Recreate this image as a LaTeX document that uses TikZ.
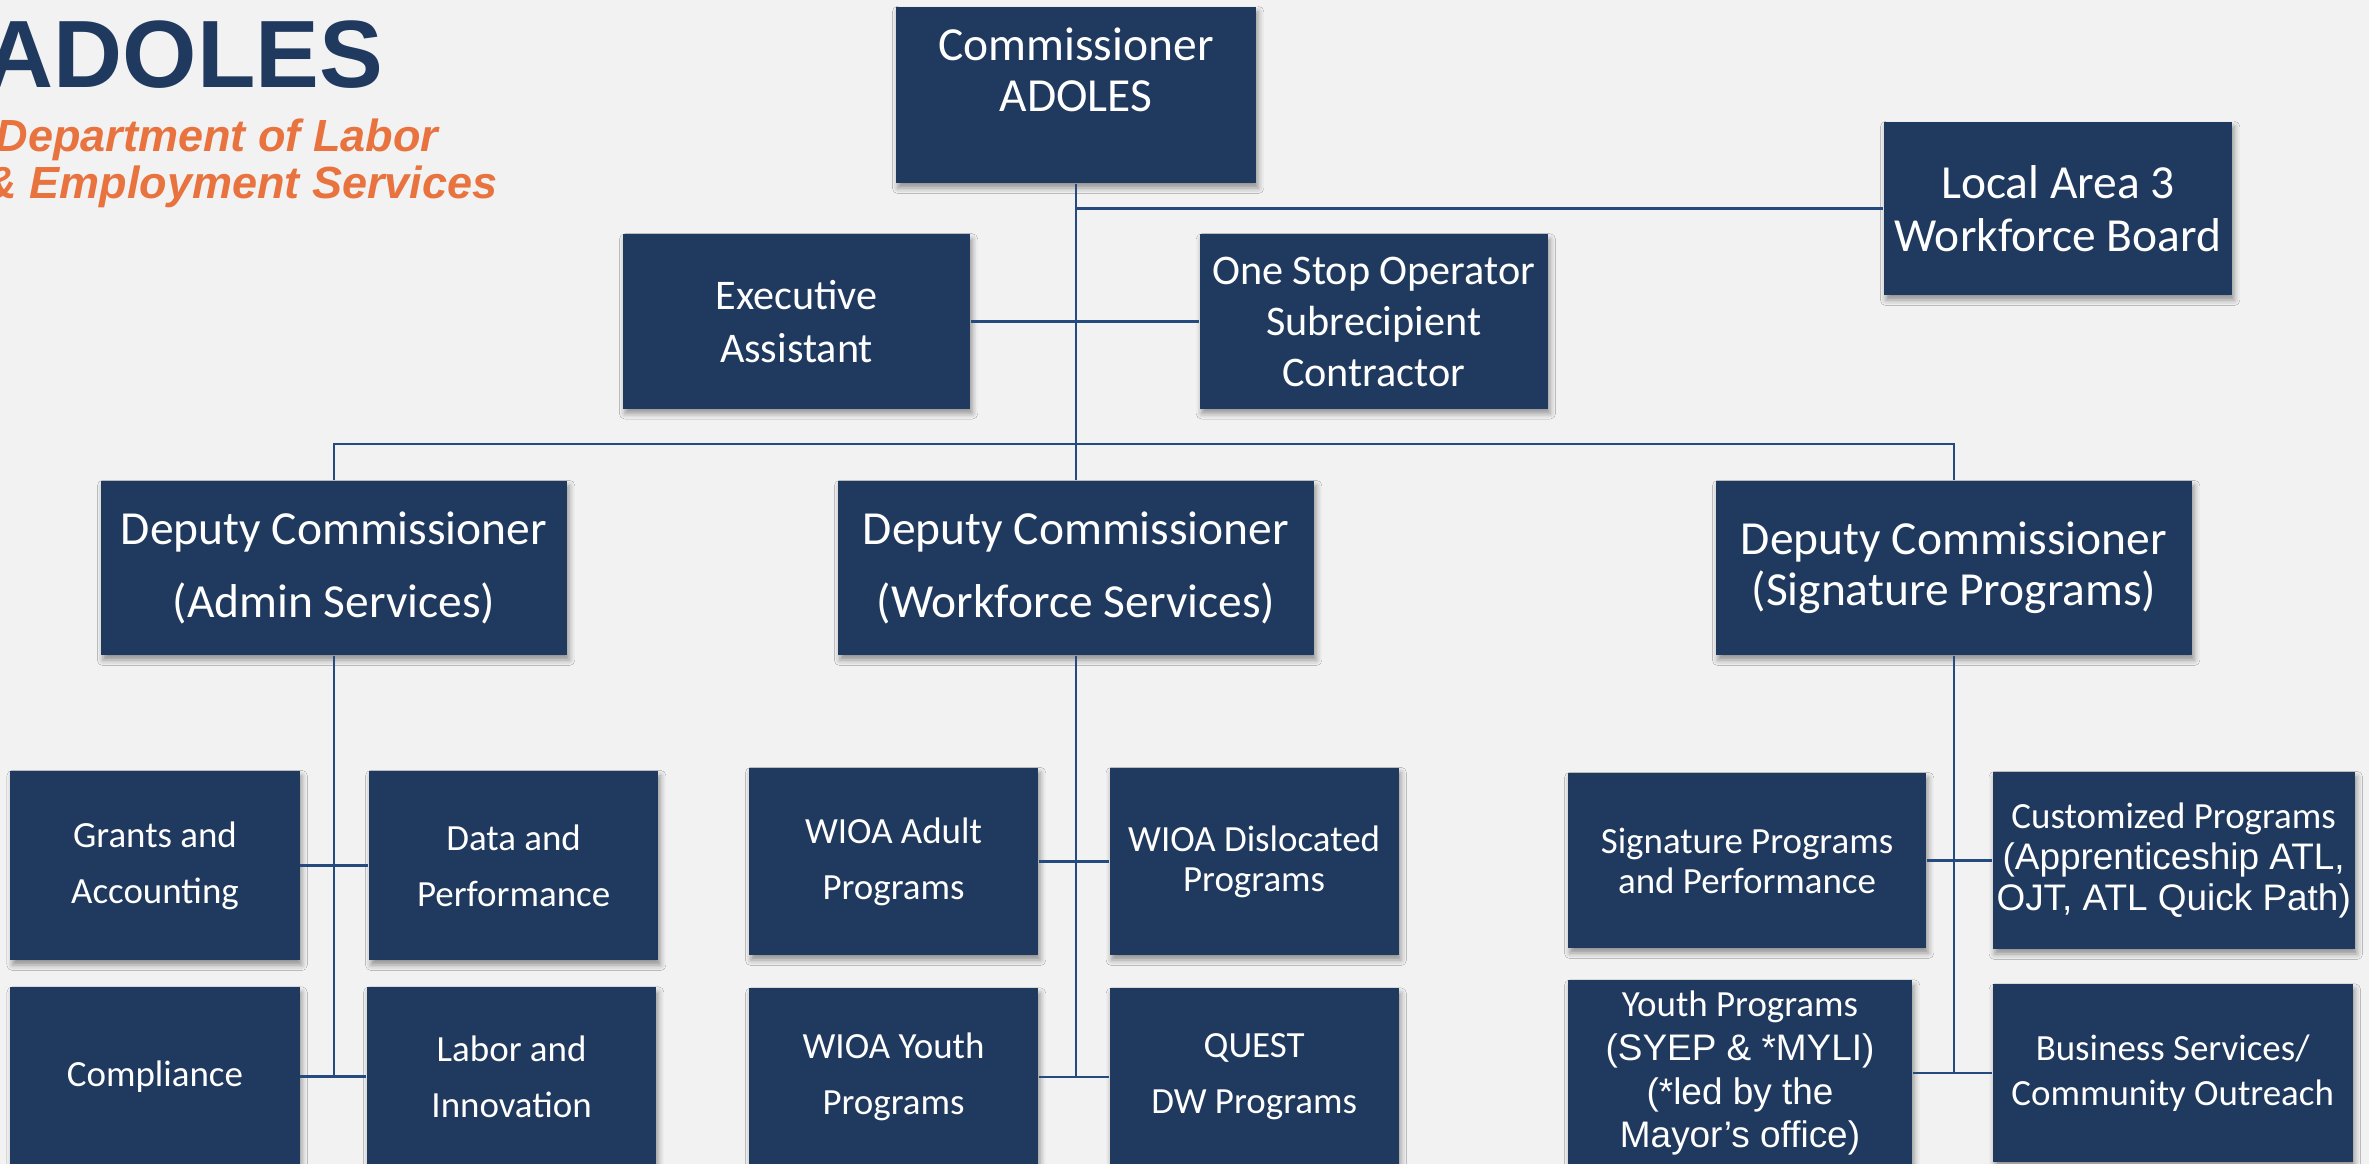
\documentclass[tikz,border=0pt]{standalone}
\usepackage{fontspec}
\setmainfont{Carlito}
\newfontfamily\arialfont{Liberation Sans}
\usepackage{xcolor}
\usetikzlibrary{positioning, shadows.blur}
\definecolor{navy}{HTML}{203A5F}
\definecolor{linkblue}{HTML}{254A80}
\definecolor{pagebg}{HTML}{F2F2F2}
\definecolor{brandorange}{HTML}{E8733F}

\begin{document}
\begin{tikzpicture}[
    x=0.01cm, y=-0.01cm,
    office/.style={
      fill=navy, 
      text=white, 
      inner sep=0pt, 
      align=center, 
      blur shadow={shadow xshift=0.6pt, shadow yshift=-1.4pt,
        shadow blur radius=1.6pt, shadow opacity=40}
    },
    dims/.style 2 args={
      minimum width=#1, 
      minimum height=#2
    },
    headfont/.style={font=\fontsize{13.5pt}{#1}\selectfont},
    midfont/.style={font=\fontsize{12pt}{#1}\selectfont},
    smallfont/.style={font=\fontsize{10.5pt}{#1}\selectfont},
    link/.style={
      draw=linkblue, 
      line width=0.7pt
    }
]

% Page
\fill[pagebg] (0,0) rectangle (2369,1164);
\useasboundingbox (0,0) rectangle (2369,1164);

% Title
\node (brand) [anchor=base west, inner sep=0pt, text=navy,
  font=\arialfont\bfseries\fontsize{27.2pt}{30pt}\selectfont] at (-16,88) {ADOLES};
\node (dept) [anchor=base west, inner sep=0pt, text=brandorange,
  font=\arialfont\bfseries\itshape\fontsize{12.8pt}{13.4pt}\selectfont] at (-5,152) {Department of Labor};
\node (dept2) [anchor=base west, inner sep=0pt, text=brandorange,
  font=\arialfont\bfseries\itshape\fontsize{12.8pt}{13.4pt}\selectfont] at (-16,199) {\& Employment Services};

% Top level
\node (comm) [office, dims={3.60cm}{1.76cm}, headfont=14.5pt] at (1076,95) {Commissioner\\ADOLES\\~};
\node (board) [office, dims={3.48cm}{1.73cm}, headfont=15pt] at (2058,208.5) {Local Area 3\\Workforce Board};
\node (exec) [office, dims={3.47cm}{1.74cm}, midfont=15pt] at (796.5,321.5) {Executive\\Assistant};
\node (onestop) [office, dims={3.48cm}{1.74cm}, midfont=14.5pt, right=2.28cm of exec] {One Stop Operator\\Subrecipient\\Contractor};

% Deputies
\node (depAdmin) [office, dims={4.66cm}{1.74cm}, headfont=20.5pt] at (334,568) {Deputy Commissioner\\(Admin Services)};
\node (depWork) [office, dims={4.76cm}{1.74cm}, headfont=20.5pt] at (1076,568) {Deputy Commissioner\\(Workforce Services)};
\node (depSig) [office, dims={4.76cm}{1.74cm}, headfont=14.5pt] at (1954,568) {Deputy Commissioner\\(Signature Programs)};

% Admin Services units
\node (grants) [office, dims={2.89cm}{1.89cm}, smallfont=16pt] at (155,865.5) {Grants and\\Accounting};
\node (data) [office, dims={2.89cm}{1.89cm}, smallfont=16pt, right=0.68cm of grants] {Data and\\Performance};
\node (compliance) [office, dims={2.89cm}{1.78cm}, smallfont=16pt, below=0.26cm of grants] {Compliance};
\node (labor) [office, dims={2.89cm}{1.78cm}, smallfont=16pt, right=0.66cm of compliance] {Labor and\\Innovation};

% Workforce Services units
\node (wioaAdult) [office, dims={2.89cm}{1.87cm}, smallfont=16pt] at (893.5,861.5) {WIOA Adult\\Programs};
\node (wioaDisl) [office, dims={2.89cm}{1.87cm}, smallfont=11.4pt, right=0.70cm of wioaAdult] {WIOA Dislocated\\Programs};
\node (wioaYouth) [office, dims={2.89cm}{1.77cm}, smallfont=16pt, below=0.32cm of wioaAdult] {WIOA Youth\\Programs};
\node (quest) [office, dims={2.89cm}{1.77cm}, smallfont=16pt, right=0.70cm of wioaYouth] {QUEST\\DW Programs};

% Signature Programs units
\node (sigPerf) [office, dims={3.58cm}{1.75cm}, smallfont=11.4pt] at (1747,860.5) {Signature Programs\\and Performance};
\node (custom) [office, dims={3.62cm}{1.77cm}, smallfont=11.8pt, right=0.65cm of sigPerf]
  {Customized Programs\\{\arialfont (Apprenticeship ATL,}\\{\arialfont OJT, ATL Quick Path)}};
\node (youth) [office, dims={3.44cm}{1.85cm}, smallfont=12.5pt, below=0.31cm of sigPerf.south west, anchor=north west]
  {Youth Programs\\{\arialfont (SYEP \& *MYLI)}\\{\arialfont (*led by the}\\{\arialfont Mayor’s office)}};
\node (business) [office, dims={3.60cm}{1.77cm}, smallfont=12.8pt, right=0.79cm of youth] {Business Services/\\Community Outreach};

% Connectors
\coordinate (bar) at (1075,444);
\draw [link] (comm.south) -- (depWork.north);
\draw [link] (board.west) -- (board.west -| comm.south);
\draw [link] (exec.east) -- (onestop.west);
\draw [link] (depAdmin.north) |- (bar) -| (depSig.north);

\draw [link] (depAdmin.south) -- (depAdmin.south |- compliance.east);
\draw [link] (grants.east) -- (data.west);
\draw [link] (compliance.east) -- (labor.west);

\draw [link] (depWork.south) -- (depWork.south |- wioaYouth.east);
\draw [link] (wioaAdult.east) -- (wioaDisl.west);
\draw [link] (wioaYouth.east) -- (quest.west);

\draw [link] (depSig.south) -- (depSig.south |- youth.east);
\draw [link] (sigPerf.east) -- (custom.west);
\draw [link] (youth.east) -- (business.west);

\end{tikzpicture}
\end{document}
